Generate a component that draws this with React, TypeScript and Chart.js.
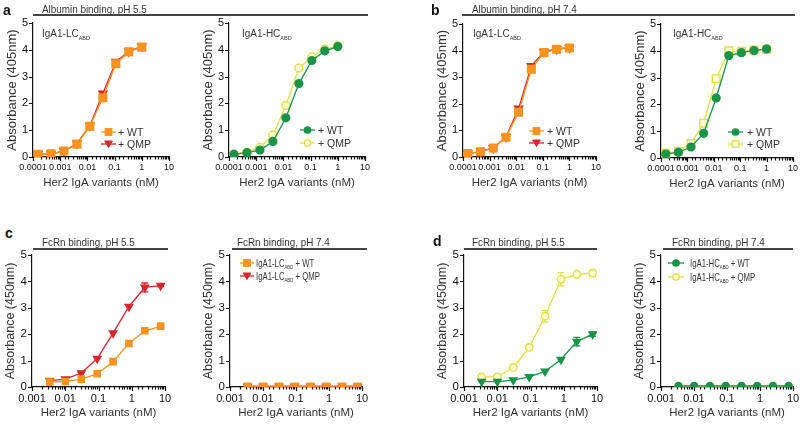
import React, { useEffect, useRef } from "react";
import { Chart, registerables } from "chart.js";
Chart.register(...registerables);

const FONT = "'Liberation Sans', Arial, sans-serif";

// ---- concentrations (nM) ----
const concAB = [0.000152, 0.000457, 0.00137, 0.00412, 0.0123, 0.037, 0.111, 0.333, 1.0];
const concCD = [0.0034, 0.0101, 0.0304, 0.0914, 0.274, 0.823, 2.47, 7.4];

// ---- a: albumin binding pH 5.5 ----
const aLcWt = [0.1, 0.12, 0.22, 0.48, 1.15, 2.21, 3.48, 3.93, 4.1];
const aLcQmp = [0.1, 0.12, 0.22, 0.5, 1.17, 2.37, 3.55, 3.94, 4.13];
const aLcErr = [0, 0, 0, 0, 0, 0, 0, 0, 0.07];
const aHcWt = [0.1, 0.16, 0.26, 0.58, 1.46, 2.74, 3.6, 3.96, 4.12];
const aHcQmp = [0.12, 0.18, 0.36, 0.82, 1.92, 3.32, 3.73, 4.03, 4.15];

// ---- b: albumin binding pH 7.4 ----
const bLcWt = [0.13, 0.2, 0.34, 0.74, 1.68, 3.3, 3.93, 4.05, 4.1];
const bLcQmp = [0.13, 0.2, 0.34, 0.75, 1.82, 3.42, 3.95, 4.06, 4.11];
const bHcWt = [0.15, 0.21, 0.41, 0.92, 2.24, 3.82, 3.93, 4.01, 4.07];
const bHcQmp = [0.18, 0.25, 0.54, 1.3, 2.96, 4.0, 3.98, 4.03, 4.05];

// ---- c: FcRn binding, IgA1-LC ----
const cLcWt55 = [0.19, 0.21, 0.3, 0.5, 0.96, 1.65, 2.13, 2.3];
const cLcWt55Err = [0, 0, 0, 0, 0, 0, 0.05, 0.12];
const cLcQmp55 = [0.24, 0.3, 0.53, 1.08, 2.04, 3.05, 3.77, 3.84];
const cLcQmp55Err = [0, 0, 0, 0, 0, 0, 0.17, 0.04];
const cLcWt74 = [0.03, 0.03, 0.03, 0.03, 0.03, 0.03, 0.03, 0.03];
const cLcQmp74 = [0.02, 0.02, 0.02, 0.02, 0.02, 0.02, 0.02, 0.02];

// ---- d: FcRn binding, IgA1-HC ----
const dHcWt55 = [0.2, 0.2, 0.26, 0.38, 0.59, 1.04, 1.72, 2.0];
const dHcWt55Err = [0, 0, 0, 0, 0, 0, 0.16, 0.08];
const dHcQmp55 = [0.38, 0.38, 0.74, 1.5, 2.68, 4.08, 4.27, 4.31];
const dHcQmp55Err = [0, 0, 0, 0, 0.22, 0.25, 0.04, 0.13];
const dHcWt74 = [0.04, 0.04, 0.04, 0.04, 0.04, 0.04, 0.04, 0.04];
const dHcQmp74 = [0.03, 0.03, 0.03, 0.03, 0.03, 0.03, 0.03, 0.03];

const xTitle = "Her2 IgA variants (nM)";
const yTitle405 = "Absorbance (405nm)";
const yTitle450 = "Absorbance (450nm)";

const ORANGE = "#F7931E";
const RED = "#D8262E";
const GREEN = "#1A9448";
const YELLOW = "#E2DF45";
const YFILL = "#FBFAD6";

const YW = 30;
const XH = 36;
const PT = 10;
const PR = 14;

type Shape = "rect" | "tri" | "circle";
type SetDef = { data: number[]; err?: number[]; color: string; fill: string; shape: Shape; r: number };
type PanelDef = {
  x0: number; x1: number; y0: number; y1: number;
  xmin: number; xmax: number; conc: number[]; yTitle: string;
  xt: number; yt: number; yts: number; sets: SetDef[];
};

const panels: PanelDef[] = [
  { x0: 33, x1: 169, y0: 23, y1: 157, xmin: 1e-4, xmax: 10, conc: concAB, yTitle: yTitle405, xt: 9, yt: 11, yts: 13,
    sets: [
      { data: aLcWt, err: aLcErr, color: ORANGE, fill: ORANGE, shape: "rect", r: 5.4 },
      { data: aLcQmp, err: aLcErr, color: RED, fill: RED, shape: "tri", r: 4.6 },
    ] },
  { x0: 229, x1: 365, y0: 23, y1: 157, xmin: 1e-4, xmax: 10, conc: concAB, yTitle: yTitle405, xt: 9, yt: 11, yts: 13,
    sets: [
      { data: aHcWt, color: GREEN, fill: GREEN, shape: "circle", r: 3.9 },
      { data: aHcQmp, color: YELLOW, fill: YFILL, shape: "circle", r: 4 },
    ] },
  { x0: 463, x1: 596, y0: 24, y1: 157, xmin: 1e-4, xmax: 10, conc: concAB, yTitle: yTitle405, xt: 9, yt: 11, yts: 13,
    sets: [
      { data: bLcWt, color: ORANGE, fill: ORANGE, shape: "rect", r: 5.4 },
      { data: bLcQmp, color: RED, fill: RED, shape: "tri", r: 4.6 },
    ] },
  { x0: 661, x1: 793, y0: 24, y1: 158, xmin: 1e-4, xmax: 10, conc: concAB, yTitle: yTitle405, xt: 9, yt: 11, yts: 13,
    sets: [
      { data: bHcWt, color: GREEN, fill: GREEN, shape: "circle", r: 3.9 },
      { data: bHcQmp, color: YELLOW, fill: YFILL, shape: "rect", r: 5.4 },
    ] },
  { x0: 32, x1: 165, y0: 255, y1: 387, xmin: 1e-3, xmax: 10, conc: concCD, yTitle: yTitle450, xt: 11, yt: 11.5, yts: 12.5,
    sets: [
      { data: cLcWt55, err: cLcWt55Err, color: ORANGE, fill: ORANGE, shape: "rect", r: 4.4 },
      { data: cLcQmp55, err: cLcQmp55Err, color: RED, fill: RED, shape: "tri", r: 4.3 },
    ] },
  { x0: 230, x1: 362, y0: 255, y1: 387, xmin: 1e-3, xmax: 10, conc: concCD, yTitle: yTitle450, xt: 11, yt: 11.5, yts: 12.5,
    sets: [
      { data: cLcWt74, color: ORANGE, fill: ORANGE, shape: "rect", r: 4.4 },
      { data: cLcQmp74, color: RED, fill: RED, shape: "tri", r: 4.3 },
    ] },
  { x0: 464, x1: 597, y0: 255, y1: 387, xmin: 1e-3, xmax: 10, conc: concCD, yTitle: yTitle450, xt: 11, yt: 11.5, yts: 12.5,
    sets: [
      { data: dHcWt55, err: dHcWt55Err, color: GREEN, fill: GREEN, shape: "tri", r: 4.3 },
      { data: dHcQmp55, err: dHcQmp55Err, color: YELLOW, fill: YFILL, shape: "circle", r: 3.7 },
    ] },
  { x0: 661, x1: 793, y0: 255, y1: 387, xmin: 1e-3, xmax: 10, conc: concCD, yTitle: yTitle450, xt: 11, yt: 11.5, yts: 12.5,
    sets: [
      { data: dHcWt74, color: GREEN, fill: GREEN, shape: "circle", r: 3.6 },
      { data: dHcQmp74, color: YELLOW, fill: YFILL, shape: "circle", r: 3.6 },
    ] },
];

function isMajor(v: number) {
  const l = Math.log10(v);
  return Math.abs(l - Math.round(l)) < 1e-6;
}
function fmt(v: number) {
  const e = Math.round(Math.log10(v));
  return e >= 0 ? String(Math.pow(10, e)) : "0." + "0".repeat(-e - 1) + "1";
}

const errorBars = {
  id: "errbars",
  beforeDatasetsDraw(chart: any) {
    const ctx = chart.ctx;
    const ys = chart.scales.y;
    chart.data.datasets.forEach((ds: any, i: number) => {
      const errs = ds.errs as number[] | undefined;
      if (!errs) return;
      const meta = chart.getDatasetMeta(i);
      meta.data.forEach((pt: any, j: number) => {
        const e = errs[j];
        if (!e) return;
        const v = ds.data[j].y;
        const yt = ys.getPixelForValue(v + e);
        const yb = ys.getPixelForValue(v - e);
        ctx.save();
        ctx.strokeStyle = ds.borderColor;
        ctx.lineWidth = 1.3;
        ctx.beginPath();
        ctx.moveTo(pt.x, yt); ctx.lineTo(pt.x, yb);
        ctx.moveTo(pt.x - 3.5, yt); ctx.lineTo(pt.x + 3.5, yt);
        ctx.moveTo(pt.x - 3.5, yb); ctx.lineTo(pt.x + 3.5, yb);
        ctx.stroke();
        ctx.restore();
      });
    });
  },
};

const axisTicks = {
  id: "axisticks",
  afterDraw(chart: any) {
    const ctx = chart.ctx;
    const { x, y } = chart.scales;
    const a = chart.chartArea;
    ctx.save();
    ctx.strokeStyle = "#111";
    ctx.lineWidth = 1.2;
    ctx.beginPath();
    x.ticks.forEach((t: any) => {
      const px = Math.round(x.getPixelForValue(t.value)) + 0.5;
      const len = isMajor(t.value) ? 4 : 2.5;
      ctx.moveTo(px, a.bottom);
      ctx.lineTo(px, a.bottom + len);
    });
    y.ticks.forEach((t: any) => {
      const py = Math.round(y.getPixelForValue(t.value)) + 0.5;
      ctx.moveTo(a.left, py);
      ctx.lineTo(a.left - 4, py);
    });
    ctx.stroke();
    ctx.restore();
  },
};

function zeroPad(s: any) {
  s.paddingLeft = 0; s.paddingRight = 0; s.paddingTop = 0; s.paddingBottom = 0;
}

function makeConfig(p: PanelDef): any {
  const datasets = p.sets.map((s) => ({
    data: p.conc.map((c, i) => ({ x: c, y: s.data[i] })),
    errs: s.err,
    borderColor: s.color,
    backgroundColor: s.fill,
    pointBackgroundColor: s.fill,
    pointBorderColor: s.color,
    pointStyle: s.shape === "tri" ? "triangle" : s.shape === "rect" ? "rect" : "circle",
    rotation: s.shape === "tri" ? 180 : 0,
    pointRotation: s.shape === "tri" ? 180 : 0,
    pointRadius: s.r,
    pointBorderWidth: 1.4,
    borderWidth: 1.3,
    tension: 0,
    fill: false,
  }));
  return {
    type: "line",
    data: { datasets },
    plugins: [errorBars, axisTicks],
    options: {
      responsive: false,
      animation: false,
      devicePixelRatio: 1,
      layout: { padding: { top: PT, right: PR, left: 0, bottom: 0 } },
      plugins: { legend: { display: false }, tooltip: { enabled: false } },
      scales: {
        x: {
          type: "logarithmic",
          min: p.xmin,
          max: p.xmax,
          grid: { display: false, drawTicks: true, tickLength: 4 },
          border: { display: true, color: "#111", width: 1.2 },
          ticks: {
            autoSkip: false, maxRotation: 0, minRotation: 0, padding: 1.5, color: "#111",
            font: { family: FONT, size: p.xt },
            callback: (v: any) => (isMajor(Number(v)) ? fmt(Number(v)) : ""),
          },
          title: {
            display: true, text: xTitle, color: "#333",
            font: { family: FONT, size: 11.5, lineHeight: 1.2 },
            padding: { top: 0, bottom: 3 },
          },
          afterFit: (s: any) => { s.height = XH; zeroPad(s); },
        },
        y: {
          min: 0,
          max: 5,
          grid: { display: false, drawTicks: true, tickLength: 4 },
          border: { display: true, color: "#111", width: 1.2 },
          ticks: { stepSize: 1, padding: 1, color: "#111", font: { family: FONT, size: p.yt } },
          title: {
            display: true, text: p.yTitle, color: "#333",
            font: { family: FONT, size: p.yts, lineHeight: 1.2 },
            padding: { top: 1.5, bottom: 0 },
          },
          afterFit: (s: any) => { s.width = YW; zeroPad(s); },
        },
      },
    },
  };
}

function Sym({ shape, color, fill, w }: { shape: Shape; color: string; fill: string; w: number }) {
  const c = w / 2;
  let m: any;
  if (shape === "rect") m = <rect x={c - 3.3} y={1.7} width={6.6} height={6.6} fill={fill} stroke={color} strokeWidth={1.2} />;
  else if (shape === "tri") m = <polygon points={`${c - 3.8},2 ${c + 3.8},2 ${c},8.5`} fill={fill} stroke={color} strokeWidth={1} />;
  else m = <circle cx={c} cy={5} r={3.2} fill={fill} stroke={color} strokeWidth={1.3} />;
  return (
    <svg width={w} height={10} style={{ display: "block" }}>
      <line x1={0} y1={5} x2={w} y2={5} stroke={color} strokeWidth={1.3} />
      {m}
    </svg>
  );
}

type LegRow = { shape: Shape; color: string; fill: string; text: any };
function Legend({ cx, tx, rows, w, size, sx }: { cx: number; tx: number; rows: { y: number; row: LegRow }[]; w: number; size: number; sx: number }) {
  return (
    <>
      {rows.map(({ y, row }, i) => (
        <React.Fragment key={i}>
          <div style={{ position: "absolute", left: cx - w / 2, top: y - 5 }}>
            <Sym shape={row.shape} color={row.color} fill={row.fill} w={w} />
          </div>
          <div style={{ position: "absolute", left: tx, top: y - size * 0.6, fontFamily: FONT, fontSize: size, lineHeight: `${size * 1.2}px`, color: "#333", whiteSpace: "nowrap", transform: `scaleX(${sx})`, transformOrigin: "left center" }}>
            {row.text}
          </div>
        </React.Fragment>
      ))}
    </>
  );
}

function Sub({ main, sub, size }: { main: string; sub: string; size: number }) {
  return (
    <span>
      {main}
      <span style={{ fontSize: size * 0.55, position: "relative", top: size * 0.25 }}>{sub}</span>
    </span>
  );
}

function TitleBar({ text, tx, x1, x2, ty, ly }: { text: string; tx: number; x1: number; x2: number; ty: number; ly: number }) {
  return (
    <>
      <div style={{ position: "absolute", left: tx, top: ty - 6.5, fontFamily: FONT, fontSize: 10.5, lineHeight: "13px", color: "#333", whiteSpace: "nowrap", transform: "scaleX(0.94)", transformOrigin: "left center" }}>{text}</div>
      <div style={{ position: "absolute", left: x1, top: ly - 0.75, width: x2 - x1, height: 1.5, background: "#444" }} />
    </>
  );
}

function Letter({ t, x, y }: { t: string; x: number; y: number }) {
  return (
    <div style={{ position: "absolute", left: x, top: y - 8, fontFamily: FONT, fontWeight: "bold", fontSize: 14, lineHeight: "16px", color: "#111" }}>{t}</div>
  );
}

export default function App() {
  const refs = useRef<(HTMLCanvasElement | null)[]>([]);
  useEffect(() => {
    const charts = panels.map((p, i) => new Chart(refs.current[i] as HTMLCanvasElement, makeConfig(p)));
    return () => charts.forEach((c) => c.destroy());
  }, []);

  const insetSize = 10;
  const legSize = 10.5;
  const lcRows = (pre: boolean) => [
    { shape: "rect" as Shape, color: ORANGE, fill: ORANGE, text: pre ? <><Sub main="IgA1-LC" sub="ABD" size={legSize} /> + WT</> : "+ WT" },
    { shape: "tri" as Shape, color: RED, fill: RED, text: pre ? <><Sub main="IgA1-LC" sub="ABD" size={legSize} /> + QMP</> : "+ QMP" },
  ];
  const hcRows = (pre: boolean, qShape: Shape) => [
    { shape: "circle" as Shape, color: GREEN, fill: GREEN, text: pre ? <><Sub main="IgA1-HC" sub="ABD" size={legSize} /> + WT</> : "+ WT" },
    { shape: qShape, color: YELLOW, fill: YFILL, text: pre ? <><Sub main="IgA1-HC" sub="ABD" size={legSize} /> + QMP</> : "+ QMP" },
  ];

  return (
    <div style={{ position: "fixed", left: 0, top: 0, width: 800, height: 424, background: "#fff", overflow: "hidden" }}>
      {panels.map((p, i) => {
        const w = p.x1 - p.x0 + YW + PR;
        const h = p.y1 - p.y0 + PT + XH;
        return (
          <canvas
            key={i}
            ref={(el) => { refs.current[i] = el; }}
            width={w}
            height={h}
            style={{ position: "absolute", left: p.x0 - YW, top: p.y0 - PT, width: w, height: h }}
          />
        );
      })}

      <Letter t="a" x={3} y={10} />
      <Letter t="b" x={431} y={10} />
      <Letter t="c" x={5} y={233} />
      <Letter t="d" x={433} y={241} />

      <TitleBar text="Albumin binding, pH 5.5" tx={42} x1={33} x2={368} ty={9} ly={15} />
      <TitleBar text="Albumin binding, pH 7.4" tx={472} x1={462} x2={795} ty={9} ly={15} />
      <TitleBar text="FcRn binding, pH 5.5" tx={42} x1={33} x2={168} ty={242} ly={249} />
      <TitleBar text="FcRn binding, pH 7.4" tx={237} x1={232} x2={367} ty={242} ly={249} />
      <TitleBar text="FcRn binding, pH 5.5" tx={472} x1={464} x2={597} ty={242} ly={249} />
      <TitleBar text="FcRn binding, pH 7.4" tx={672} x1={663} x2={793} ty={242} ly={249} />

      {[
        { x: 42, t: "IgA1-LC" },
        { x: 242, t: "IgA1-HC" },
        { x: 473, t: "IgA1-LC" },
        { x: 673, t: "IgA1-HC" },
      ].map((l, i) => (
        <div key={i} style={{ position: "absolute", left: l.x, top: 34 - insetSize * 0.6, fontFamily: FONT, fontSize: insetSize, lineHeight: `${insetSize * 1.2}px`, color: "#333", whiteSpace: "nowrap" }}>
          <Sub main={l.t} sub="ABD" size={insetSize} />
        </div>
      ))}

      <Legend cx={108} tx={118} w={15} size={legSize} sx={1} rows={[{ y: 132, row: lcRows(false)[0] }, { y: 144, row: lcRows(false)[1] }]} />
      <Legend cx={307} tx={318} w={15} size={legSize} sx={1} rows={[{ y: 130, row: hcRows(false, "circle")[0] }, { y: 143, row: hcRows(false, "circle")[1] }]} />
      <Legend cx={536} tx={547} w={15} size={legSize} sx={1} rows={[{ y: 131, row: lcRows(false)[0] }, { y: 143, row: lcRows(false)[1] }]} />
      <Legend cx={735} tx={747} w={15} size={legSize} sx={1} rows={[{ y: 132, row: hcRows(false, "rect")[0] }, { y: 144, row: hcRows(false, "rect")[1] }]} />
      <Legend cx={247} tx={256} w={14} size={legSize} sx={0.74} rows={[{ y: 263, row: lcRows(true)[0] }, { y: 276, row: lcRows(true)[1] }]} />
      <Legend cx={676} tx={690} w={16} size={legSize} sx={0.74} rows={[{ y: 263, row: hcRows(true, "circle")[0] }, { y: 277, row: hcRows(true, "circle")[1] }]} />
    </div>
  );
}
